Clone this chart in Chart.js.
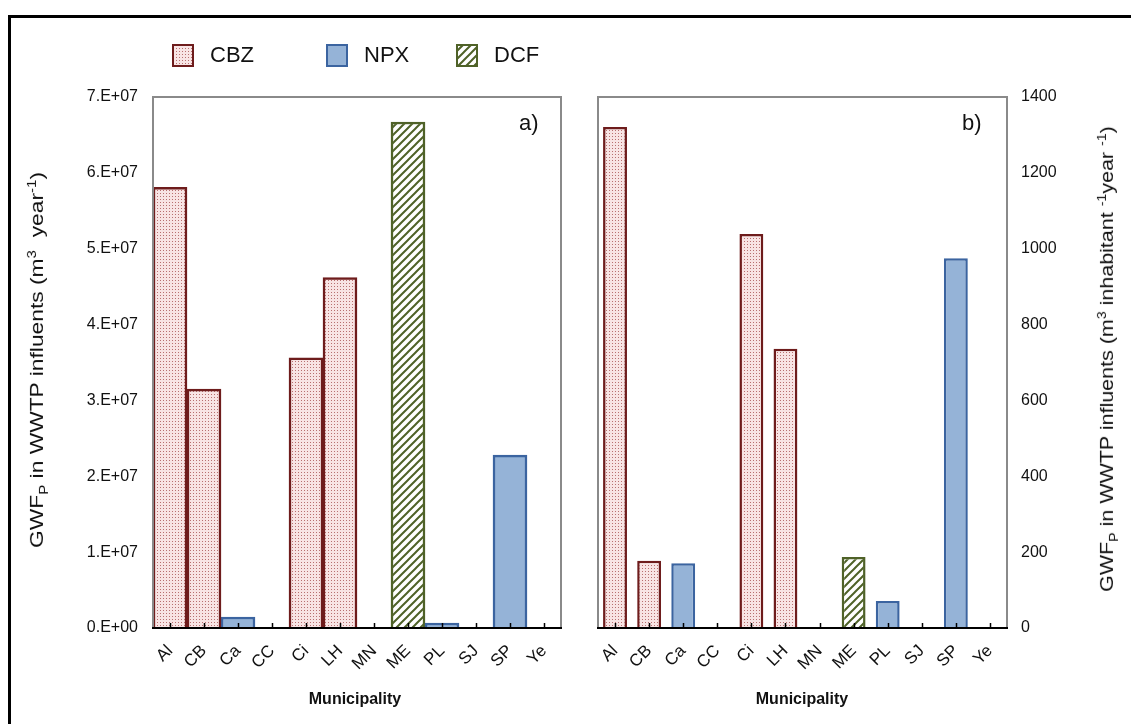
<!DOCTYPE html>
<html>
<head>
<meta charset="utf-8">
<script src="https://cdn.jsdelivr.net/npm/chart.js@4.4.0/dist/chart.umd.min.js"></script>
<style>
  html, body { margin: 0; padding: 0; background: #fff; }
  body { width: 1131px; height: 724px; position: relative; overflow: hidden;
         font-family: "Liberation Sans", Arial, sans-serif; color: #111; }
  .frame { position: absolute; left: 8px; top: 15px; width: 1200px; height: 800px;
           border-left: 3px solid #000; border-top: 3px solid #000; }
  canvas.chart { position: absolute; top: 0; }
  .ytitle { position: absolute; white-space: nowrap; font-size: 19px; }
  .ytitle sub, .ytitle sup { font-size: 0.66em; }
  .xtitle { position: absolute; font-weight: bold; font-size: 16px; transform: translateX(-50%); }
  .panel { position: absolute; font-size: 22px; }
  .legend { position: absolute; top: 43px; height: 24px; display: flex; align-items: center; }
  .legend canvas { margin-right: 16px; }
  .legend span { font-size: 22px; }
</style>
</head>
<body>
<div class="frame"></div>
<canvas id="cA" class="chart" width="575" height="724" style="left:0;width:575px;height:724px"></canvas>
<canvas id="cB" class="chart" width="556" height="724" style="left:575px;width:556px;height:724px"></canvas>

<div class="legend" style="left:172px"><canvas id="lgCBZ" width="22" height="23"></canvas><span>CBZ</span></div>
<div class="legend" style="left:326px"><canvas id="lgNPX" width="22" height="23"></canvas><span>NPX</span></div>
<div class="legend" style="left:456px"><canvas id="lgDCF" width="22" height="23"></canvas><span>DCF</span></div>

<div class="ytitle" style="left:38px;top:360px;transform:translate(-50%,-50%) rotate(-90deg) scaleX(1.2)">GWF<sub>P</sub> in WWTP influents (m<sup>3</sup>&nbsp; year<sup>-1</sup>)</div>
<div class="ytitle" style="left:1108px;top:359px;transform:translate(-50%,-50%) rotate(-90deg) scaleX(1.13)">GWF<sub>P</sub> in WWTP influents (m<sup>3</sup> inhabitant <sup>-1</sup>year <sup>-1</sup>)</div>
<div class="xtitle" style="left:355px;top:690px">Municipality</div>
<div class="xtitle" style="left:802px;top:690px">Municipality</div>
<div class="panel" style="left:519px;top:110px">a)</div>
<div class="panel" style="left:962px;top:110px">b)</div>

<script>
// ---- data ----
const categories = ['Al','CB','Ca','CC','Ci','LH','MN','ME','PL','SJ','SP','Ye'];
const seriesNames = ['CBZ','NPX','DCF'];
// panel a) GWF_P in WWTP influents (m3 year-1)
const cbzTotal = [5.81e7, 3.15e7, null, null, 3.56e7, 4.62e7, null, null, null, null, null, null];
const npxTotal = [null, null, 1.45e6, null, null, null, null, null, 6.6e5, null, 2.28e7, null];
const dcfTotal = [null, null, null, null, null, null, null, 6.67e7, null, null, null, null];
// panel b) GWF_P in WWTP influents (m3 inhabitant-1 year-1)
const cbzPerCapita = [1321, 177, null, null, 1039, 736, null, null, null, null, null, null];
const npxPerCapita = [null, null, 171, null, null, null, null, null, 71, null, 975, null];
const dcfPerCapita = [null, null, null, null, null, null, null, 187, null, null, null, null];
// axis ticks
const totalAxis = { min: 0, max: 7e7, step: 1e7 };
const perCapitaAxis = { min: 0, max: 1400, step: 200 };

// ---- styles ----
Chart.defaults.font.family = '"Liberation Sans", Arial, sans-serif';
Chart.defaults.color = '#1a1a1a';

function makeTile(w, h, draw) {
  const c = document.createElement('canvas'); c.width = w; c.height = h;
  draw(c.getContext('2d'));
  return c;
}
const dotTile = makeTile(3, 3, g => {
  g.fillStyle = '#f8e4e4'; g.fillRect(0, 0, 3, 3);
  g.fillStyle = '#b87070'; g.fillRect(1, 1, 1, 1);
});
const stripeTile = makeTile(8, 8, g => {
  g.fillStyle = '#fff'; g.fillRect(0, 0, 8, 8);
  g.strokeStyle = '#4f6228'; g.lineWidth = 2;
  g.beginPath();
  g.moveTo(-2, 10); g.lineTo(10, -2);
  g.moveTo(-6, 6); g.lineTo(6, -6);
  g.moveTo(2, 14); g.lineTo(14, 2);
  g.stroke();
});
const tmp = document.createElement('canvas').getContext('2d');
const styles = {
  CBZ: { fill: tmp.createPattern(dotTile, 'repeat'), border: '#6e1c1c' },
  NPX: { fill: '#95b3d7', border: '#3b64a0' },
  DCF: { fill: tmp.createPattern(stripeTile, 'repeat'), border: '#4f6228' }
};

// legend swatches
seriesNames.forEach(n => {
  const c = document.getElementById('lg' + n), g = c.getContext('2d');
  g.fillStyle = g.createPattern(n === 'CBZ' ? dotTile : stripeTile, 'repeat');
  if (n === 'NPX') g.fillStyle = styles.NPX.fill;
  g.fillRect(1, 1, 20, 21);
  g.strokeStyle = styles[n].border; g.lineWidth = 2; g.strokeRect(1, 1, 20, 21);
});

const framePlugin = {
  id: 'frame',
  afterDatasetsDraw(chart) {
    const { ctx, chartArea: a } = chart;
    const xs = chart.scales.x;
    ctx.save();
    ctx.strokeStyle = '#8a8a8a'; ctx.lineWidth = 2;
    ctx.strokeRect(a.left, a.top, a.right - a.left, a.bottom - a.top);
    ctx.strokeStyle = '#000'; ctx.lineWidth = 2;
    ctx.beginPath(); ctx.moveTo(a.left - 1, a.bottom); ctx.lineTo(a.right + 1, a.bottom); ctx.stroke();
    ctx.lineWidth = 1.5;
    ctx.beginPath();
    for (let i = 0; i < categories.length; i++) {
      const x = Math.round(xs.getPixelForTick(i)) + 0.5;
      ctx.moveTo(x, a.bottom); ctx.lineTo(x, a.bottom - 5);
    }
    ctx.stroke();
    ctx.restore();
  }
};

function datasets(vals, barPct) {
  return seriesNames.map((n, k) => ({
    label: n, data: vals[k],
    backgroundColor: styles[n].fill, borderColor: styles[n].border,
    borderWidth: 2.5, borderSkipped: 'bottom',
    barPercentage: barPct, categoryPercentage: 1.0
  }));
}

function makeChart(id, vals, barPct, axis, pos, yWidth, padding, fmt, tickPad) {
  return new Chart(document.getElementById(id), {
    type: 'bar',
    data: { labels: categories, datasets: datasets(vals, barPct) },
    plugins: [framePlugin],
    options: {
      responsive: false, animation: false, devicePixelRatio: 1,
      layout: { padding },
      plugins: { legend: { display: false }, tooltip: { enabled: false } },
      scales: {
        x: {
          stacked: true,
          grid: { display: false }, border: { display: false },
          ticks: { font: { size: 17 }, color: '#111', minRotation: 45, maxRotation: 45, padding: 5, autoSkip: false },
          afterFit(s) { s.height = 96; }
        },
        y: {
          stacked: true, position: pos,
          min: axis.min, max: axis.max,
          grid: { display: false, drawTicks: false }, border: { display: false },
          ticks: { stepSize: axis.step, font: { size: 16 }, color: '#111', padding: tickPad, callback: fmt },
          afterFit(s) { s.width = yWidth; }
        }
      }
    }
  });
}

makeChart('cA', [cbzTotal, npxTotal, dcfTotal], 1.0, totalAxis, 'left', 153,
  { top: 97, right: 14, left: 0, bottom: 0 },
  v => v === 0 ? '0.E+00' : (v / 1e7) + '.E+07', 15);
makeChart('cB', [cbzPerCapita, npxPerCapita, dcfPerCapita], 0.7, perCapitaAxis, 'right', 124,
  { top: 97, right: 0, left: 23, bottom: 0 },
  v => String(v), 14);
</script>
</body>
</html>
